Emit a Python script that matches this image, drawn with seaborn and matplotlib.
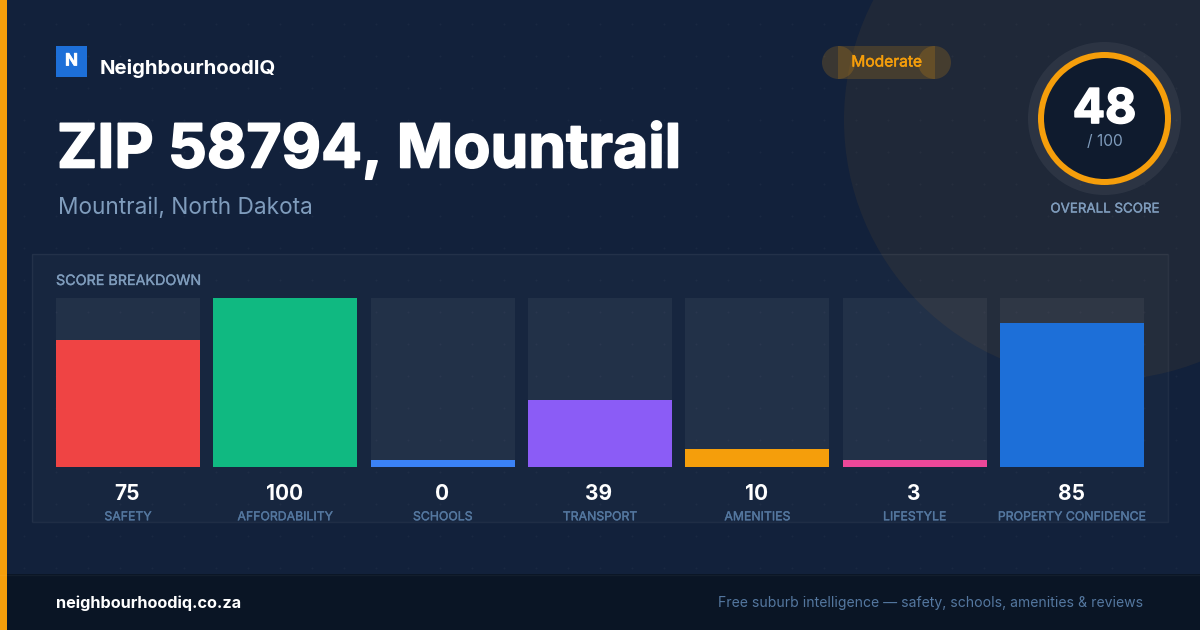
import numpy as np
import pandas as pd
import matplotlib
matplotlib.use("Agg")
import matplotlib.pyplot as plt
import matplotlib.patheffects as pe
import seaborn as sns
from matplotlib.patches import Circle, Rectangle, Wedge

# score data
categories = ["SAFETY", "AFFORDABILITY", "SCHOOLS", "TRANSPORT", "AMENITIES", "LIFESTYLE", "PROPERTY CONFIDENCE"]
scores = [75, 100, 0, 39.4, 10.4, 3, 85]
bar_colors = ["#ef4444", "#10b981", "#3b82f6", "#8b5cf6", "#f59e0b", "#ec4899", "#1d6fd8"]
overall_score = 48
score_max = 100
min_bar = 4  # the card keeps a small stub for very low scores

AMBER = "#f59e0b"
BG = "#12213b"
MUTED = "#7f9cbc"
DIM = "#54779f"

sns.set_theme(style="white")
plt.rcParams["font.family"] = ["Inter", "DejaVu Sans"]

fig = plt.figure(figsize=(12, 6.3), dpi=100, facecolor=BG)

# background layer in pixel coordinates (y runs downward)
bg = fig.add_axes([0, 0, 1, 1], zorder=0)
bg.set_xlim(0, 1200)
bg.set_ylim(630, 0)
bg.axis("off")
bg.set_facecolor(BG)

gx, gy = np.meshgrid(np.arange(24, 1200, 32), np.arange(24, 574, 32))
bg.scatter(gx.ravel(), gy.ravel(), s=2.2, color="white", alpha=0.035, linewidths=0, zorder=1)

bg.add_patch(Circle((1104, 120), 260, fc=AMBER, ec="none", alpha=0.06, zorder=2))
bg.add_patch(Rectangle((0, 0), 7, 630, fc=AMBER, ec="none", zorder=6))
bg.add_patch(Rectangle((0, 574), 1200, 56, fc="#0a1525", ec="none", zorder=5))
bg.plot([0, 1200], [574.5, 574.5], color="white", alpha=0.04, lw=1, zorder=6)

# score panel
bg.add_patch(Rectangle((32, 254), 1136, 268, fc="white", ec="none", alpha=0.025, zorder=3))
bg.add_patch(Rectangle((32, 254), 1136, 268, fc="none", ec="white", alpha=0.055, lw=1, zorder=3))


def label(x, y, s, color, size, ha="center", weight="normal", stroke=0.0):
    t = bg.text(x, y, s, color=color, fontsize=size, fontweight=weight, ha=ha, va="center", zorder=7)
    if stroke:
        # Inter only comes up to bold here, a thin stroke thickens the glyphs
        t.set_path_effects([pe.Stroke(linewidth=stroke, foreground=color), pe.Normal()])
    return t


# logo and header text
bg.add_patch(Rectangle((56, 46), 31, 31, fc="#1d6fd8", ec="none", zorder=4))
label(71.5, 61, "N", "white", 12.2, weight="bold", stroke=0.5)
label(100, 69, "NeighbourhoodIQ", "white", 14.65, ha="left", weight="bold")
label(57, 151, "ZIP 58794, Mountrail", "white", 43.7, ha="left", weight="bold", stroke=1.2)
label(58, 208, "Mountrail, North Dakota", MUTED, 16.3, ha="left")

# pill, the end caps overlap the body like in the original
pill_kw = dict(fc=AMBER, ec="none", alpha=0.18, zorder=4)
bg.add_patch(Rectangle((838, 46), 97, 33, **pill_kw))
bg.add_patch(Circle((838.5, 62.5), 16.5, **pill_kw))
bg.add_patch(Circle((934.5, 62.5), 16.5, **pill_kw))
label(886.5, 62, "Moderate", AMBER, 11.2, stroke=0.35)

# score ring
ring_c = (1104.5, 118.5)
bg.add_patch(Circle(ring_c, 76.5, fc="white", ec="none", alpha=0.06, zorder=4))
bg.add_patch(Circle(ring_c, 66, fc="#0f1b2e", ec="none", zorder=5))
bg.add_patch(Wedge(ring_c, 66.5, 90 - 360, 90, width=6, fc=AMBER, ec="none", zorder=6))
label(1104.5, 110, str(overall_score), "white", 34.5, weight="bold", stroke=1.2)
label(1104.5, 141.5, f"/ {score_max}", MUTED, 11.2)
label(1104.5, 209.5, "OVERALL SCORE", MUTED, 9.6, stroke=0.25)
label(56, 281, "SCORE BREAKDOWN", MUTED, 10.3, ha="left", stroke=0.25)

# footer
label(56, 603.5, "neighbourhoodiq.co.za", "white", 11.7, ha="left", weight="bold")
label(1143, 603, "Free suburb intelligence \u2014 safety, schools, amenities & reviews", DIM, 10.1, ha="right")

# bars
pitch = 157.33
left = 56 + 72 - pitch / 2
ax = fig.add_axes([left / 1200, (630 - 467) / 630, pitch * 7 / 1200, 169 / 630], zorder=2)
ax.patch.set_alpha(0)

df = pd.DataFrame({
    "category": categories,
    "score": scores,
    "drawn": np.maximum(scores, min_bar),
    "track": score_max,
})
sns.barplot(data=df, x="category", y="track", color="white", alpha=0.05, width=144 / pitch,
            saturation=1, ax=ax, zorder=1)
sns.barplot(data=df, x="category", y="drawn", hue="category", palette=bar_colors, width=144 / pitch,
            dodge=False, legend=False, saturation=1, ax=ax, zorder=2)
for bar in ax.patches:
    bar.set_linewidth(0)

ax.set_ylim(0, score_max)
ax.set_xlim(-0.5, len(categories) - 0.5)
ax.set_xlabel("")
ax.set_ylabel("")
ax.set_yticks([])
ax.tick_params(axis="x", length=0, pad=36.2)
ax.set_xticks(range(len(categories)))
ax.set_xticklabels(categories, fontsize=8.85, color=DIM)
for tick in ax.get_xticklabels():
    tick.set_verticalalignment("center")
    tick.set_path_effects([pe.Stroke(linewidth=0.25, foreground=DIM), pe.Normal()])
sns.despine(ax=ax, left=True, bottom=True)

for i, s in enumerate(scores):
    ax.annotate(f"{s:.0f}", (i, 0), xytext=(-0.7, -26.5 * 0.72), textcoords="offset points", color="white",
                fontsize=15, fontweight="bold", ha="center", va="center", annotation_clip=False)

fig.savefig("out.png", dpi=100, facecolor=BG)
